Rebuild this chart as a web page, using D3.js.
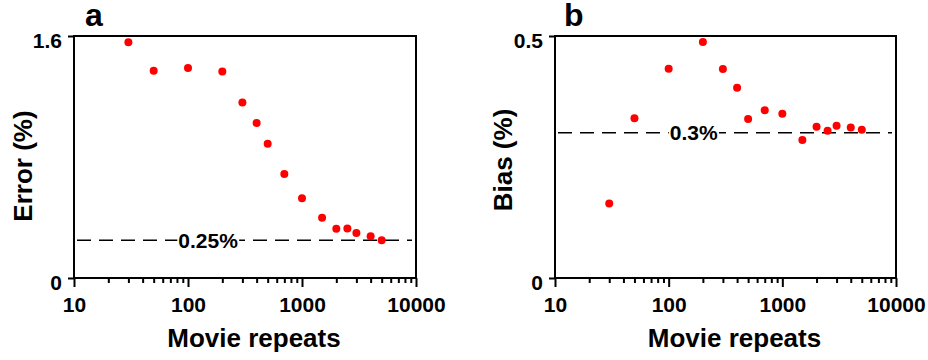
<!DOCTYPE html>
<html>
<head>
<meta charset="utf-8">
<script src="https://cdn.jsdelivr.net/npm/d3@7"></script>
<style>
  body { margin: 0; background: #fff; }
  svg text { font-family: "Liberation Sans", Arial, sans-serif; font-weight: bold; fill: #000; }
</style>
</head>
<body>
<svg id="chart" width="928" height="360"></svg>
<script>
// movie repeats (shared x values)
var repeats = [30, 50, 100, 200, 300, 400, 500, 700, 1000, 1500, 2000, 2500, 3000, 4000, 5000];
// panel a: error (%)
var errorVals = [1.558, 1.371, 1.388, 1.366, 1.161, 1.025, 0.888, 0.688, 0.527, 0.399, 0.326, 0.328, 0.298, 0.276, 0.249];
// panel b: bias (%)
var biasVals = [0.154, 0.330, 0.4325, 0.4876, 0.432, 0.393, 0.3285, 0.3465, 0.3395, 0.285, 0.3127, 0.304, 0.3148, 0.311, 0.3065];
var xTicks = [10, 100, 1000, 10000];
var xDomain = [10, 10000];

var panels = [
  { letter: "a", ylabel: "Error (%)", values: errorVals, yMax: 1.6, yTicks: [0, 1.6], ref: 0.25, refLabel: "0.25%", labelAt: 150,
    left: 74, right: 416, titleX: 32 },
  { letter: "b", ylabel: "Bias (%)", values: biasVals, yMax: 0.5, yTicks: [0, 0.5], ref: 0.3, refLabel: "0.3%", labelAt: 166,
    left: 555, right: 896, titleX: 512 }
];

var plotTop = 36, plotBottom = 278;
var svg = d3.select("#chart");

panels.forEach(function (p) {
  var x = d3.scaleLog().domain(xDomain).range([p.left, p.right]);
  var y = d3.scaleLinear().domain([0, p.yMax]).range([plotBottom, plotTop]);
  var g = svg.append("g");

  // frame
  g.append("rect")
    .attr("x", p.left).attr("y", plotTop)
    .attr("width", p.right - p.left).attr("height", plotBottom - plotTop)
    .attr("fill", "none").attr("stroke", "#000").attr("stroke-width", 2);

  // minor x ticks
  var minor = x.ticks().filter(function (t) { return xTicks.indexOf(t) < 0; });
  var minorAx = g.append("g").attr("transform", "translate(0," + plotBottom + ")")
    .call(d3.axisBottom(x).tickValues(minor).tickSize(5).tickFormat(""));
  minorAx.select(".domain").remove();

  // major x ticks
  var xAx = g.append("g").attr("transform", "translate(0," + plotBottom + ")")
    .call(d3.axisBottom(x).tickValues(xTicks).tickSize(9).tickPadding(10).tickFormat(d3.format("d")));
  xAx.select(".domain").remove();
  xAx.selectAll("text").style("font-size", "21px");

  // y axis
  var yAx = g.append("g").attr("transform", "translate(" + p.left + ",0)")
    .call(d3.axisLeft(y).tickValues(p.yTicks).tickSize(6).tickPadding(6)
      .tickFormat(function (d) { return d === 0 ? "0" : d3.format(".1f")(d); }));
  yAx.select(".domain").remove();
  yAx.selectAll("text").style("font-size", "21px").attr("dy", "0.54em");

  svg.selectAll(".tick line").attr("stroke-width", 2);

  // reference line
  g.append("line")
    .attr("x1", p.left + 3).attr("x2", p.right - 4)
    .attr("y1", y(p.ref)).attr("y2", y(p.ref))
    .attr("stroke", "#000").attr("stroke-width", 1.5)
    .attr("stroke-dasharray", "14,8");

  var lbl = g.append("text")
    .attr("x", x(p.labelAt)).attr("y", y(p.ref)).attr("dy", "0.36em")
    .attr("text-anchor", "middle").style("font-size", "21px")
    .text(p.refLabel);
  var bb = lbl.node().getBBox();
  g.insert("rect", function () { return lbl.node(); })
    .attr("x", bb.x - 1).attr("y", y(p.ref) - 4)
    .attr("width", bb.width + 2).attr("height", 8)
    .attr("fill", "#fff");

  // points
  g.selectAll("circle").data(p.values).join("circle")
    .attr("cx", function (d, i) { return x(repeats[i]); })
    .attr("cy", function (d) { return y(d); })
    .attr("r", 4)
    .attr("fill", "#ff0000");

  // titles
  g.append("text")
    .attr("x", (p.left + p.right) / 2 + 9).attr("y", 347)
    .attr("text-anchor", "middle").style("font-size", "26px")
    .text("Movie repeats");

  g.append("text")
    .attr("transform", "translate(" + p.titleX + "," + (p.letter === "a" ? 166 : 160) + ") rotate(-90)")
    .attr("text-anchor", "middle").style("font-size", "26px")
    .text(p.ylabel);

  g.append("text")
    .attr("x", p.left + (p.letter === "a" ? 11 : 9)).attr("y", 26)
    .style("font-size", "32px")
    .text(p.letter);
});
</script>
</body>
</html>
